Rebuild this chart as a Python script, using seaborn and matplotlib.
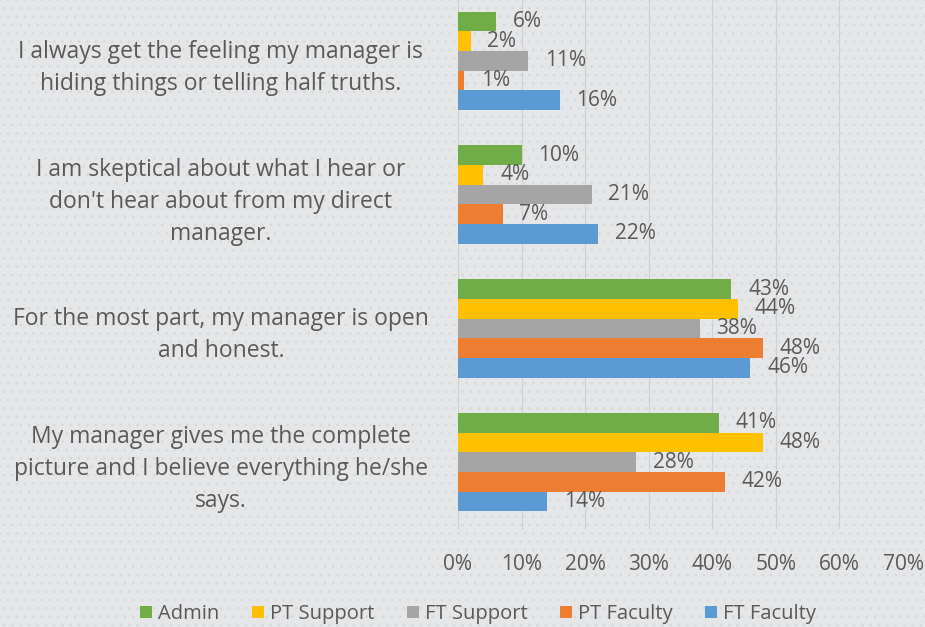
"""
Manager transparency survey - grouped horizontal bars
"""

import pandas as pd
import matplotlib.pyplot as plt
import seaborn as sns
from matplotlib.patches import Patch, Rectangle


# =============================================================================
# DATA
# =============================================================================

STATEMENTS = [
    'I always get the feeling my manager is\nhiding things or telling half truths.',
    "I am skeptical about what I hear or\ndon't hear about from my direct\nmanager.",
    'For the most part, my manager is open\nand honest.',
    'My manager gives me the complete\npicture and I believe everything he/she\nsays.',
]

GROUPS = ['Admin', 'PT Support', 'FT Support', 'PT Faculty', 'FT Faculty']

ADMIN = [6, 10, 43, 41]
PT_SUPPORT = [2, 4, 44, 48]
FT_SUPPORT = [11, 21, 38, 28]
PT_FACULTY = [1, 7, 48, 42]
FT_FACULTY = [16, 22, 46, 14]

COLORS = ['#70ad47', '#ffc000', '#a5a5a5', '#ed7d31', '#5b9bd5']

X_TICKS = [0, 10, 20, 30, 40, 50, 60, 70]


# =============================================================================
# PLOT
# =============================================================================

def build_frame():
    series = [ADMIN, PT_SUPPORT, FT_SUPPORT, PT_FACULTY, FT_FACULTY]
    rows = []
    for group, values in zip(GROUPS, series):
        for statement, v in zip(STATEMENTS, values):
            rows.append({'statement': statement, 'group': group, 'pct': v})
    return pd.DataFrame(rows)


def main():
    df = build_frame()
    bg = '#e5e6e8'
    text_col = '#595959'
    plt.rcParams['font.family'] = ['Open Sans', 'DejaVu Sans']
    plt.rcParams['hatch.linewidth'] = 0.6

    fig = plt.figure(figsize=(9.25, 6.27), dpi=100, facecolor=bg)
    # dotted background texture
    fig.patches.append(Rectangle((0, 0), 1, 1, transform=fig.transFigure,
                                 facecolor=bg, edgecolor='#d7d8da',
                                 hatch='..', linewidth=0, zorder=-10))

    ax = fig.add_axes([458 / 925, 1 - 529 / 627, 445 / 925, 535 / 627])
    ax.patch.set_alpha(0)

    sns.barplot(data=df, y='statement', x='pct', hue='group',
                hue_order=GROUPS, order=STATEMENTS, palette=COLORS,
                orient='h', width=0.735, saturation=1, errorbar=None,
                legend=False, ax=ax)

    # data labels
    for container in ax.containers:
        ax.bar_label(container, labels=[f'{v:.0f}%' for v in container.datavalues],
                     padding=12, fontsize=15, color=text_col)

    ax.set_xlim(0, 70)
    ax.set_ylim(3.5, -0.5)
    ax.set_xticks(X_TICKS)
    ax.set_xticklabels([f'{t}%' for t in X_TICKS], fontsize=15, color=text_col)
    ax.tick_params(axis='x', length=0, pad=18)
    ax.tick_params(axis='y', length=0, pad=24)
    ax.set_yticks(range(len(STATEMENTS)))
    ax.set_yticklabels(STATEMENTS, fontsize=16.5, color=text_col,
                       ha='center', linespacing=1.45)
    for lbl in ax.get_yticklabels():
        lbl.set_x(-0.458)
    ax.grid(axis='x', color='#cfd0d2', linewidth=0.8)
    ax.set_axisbelow(True)
    ax.set_xlabel('')
    ax.set_ylabel('')
    for s in ax.spines.values():
        s.set_visible(False)

    handles = [Patch(facecolor=c, label=g) for g, c in zip(GROUPS, COLORS)]
    fig.legend(handles=handles, loc='center', ncol=5,
               bbox_to_anchor=(478 / 925, 1 - 614 / 627), frameon=False,
               fontsize=14.5, labelcolor=text_col, handlelength=0.6,
               handleheight=0.6, handletextpad=0.3, columnspacing=1.6)

    fig.savefig('out.png', dpi=100, facecolor=bg)
    plt.close(fig)


if __name__ == '__main__':
    main()
